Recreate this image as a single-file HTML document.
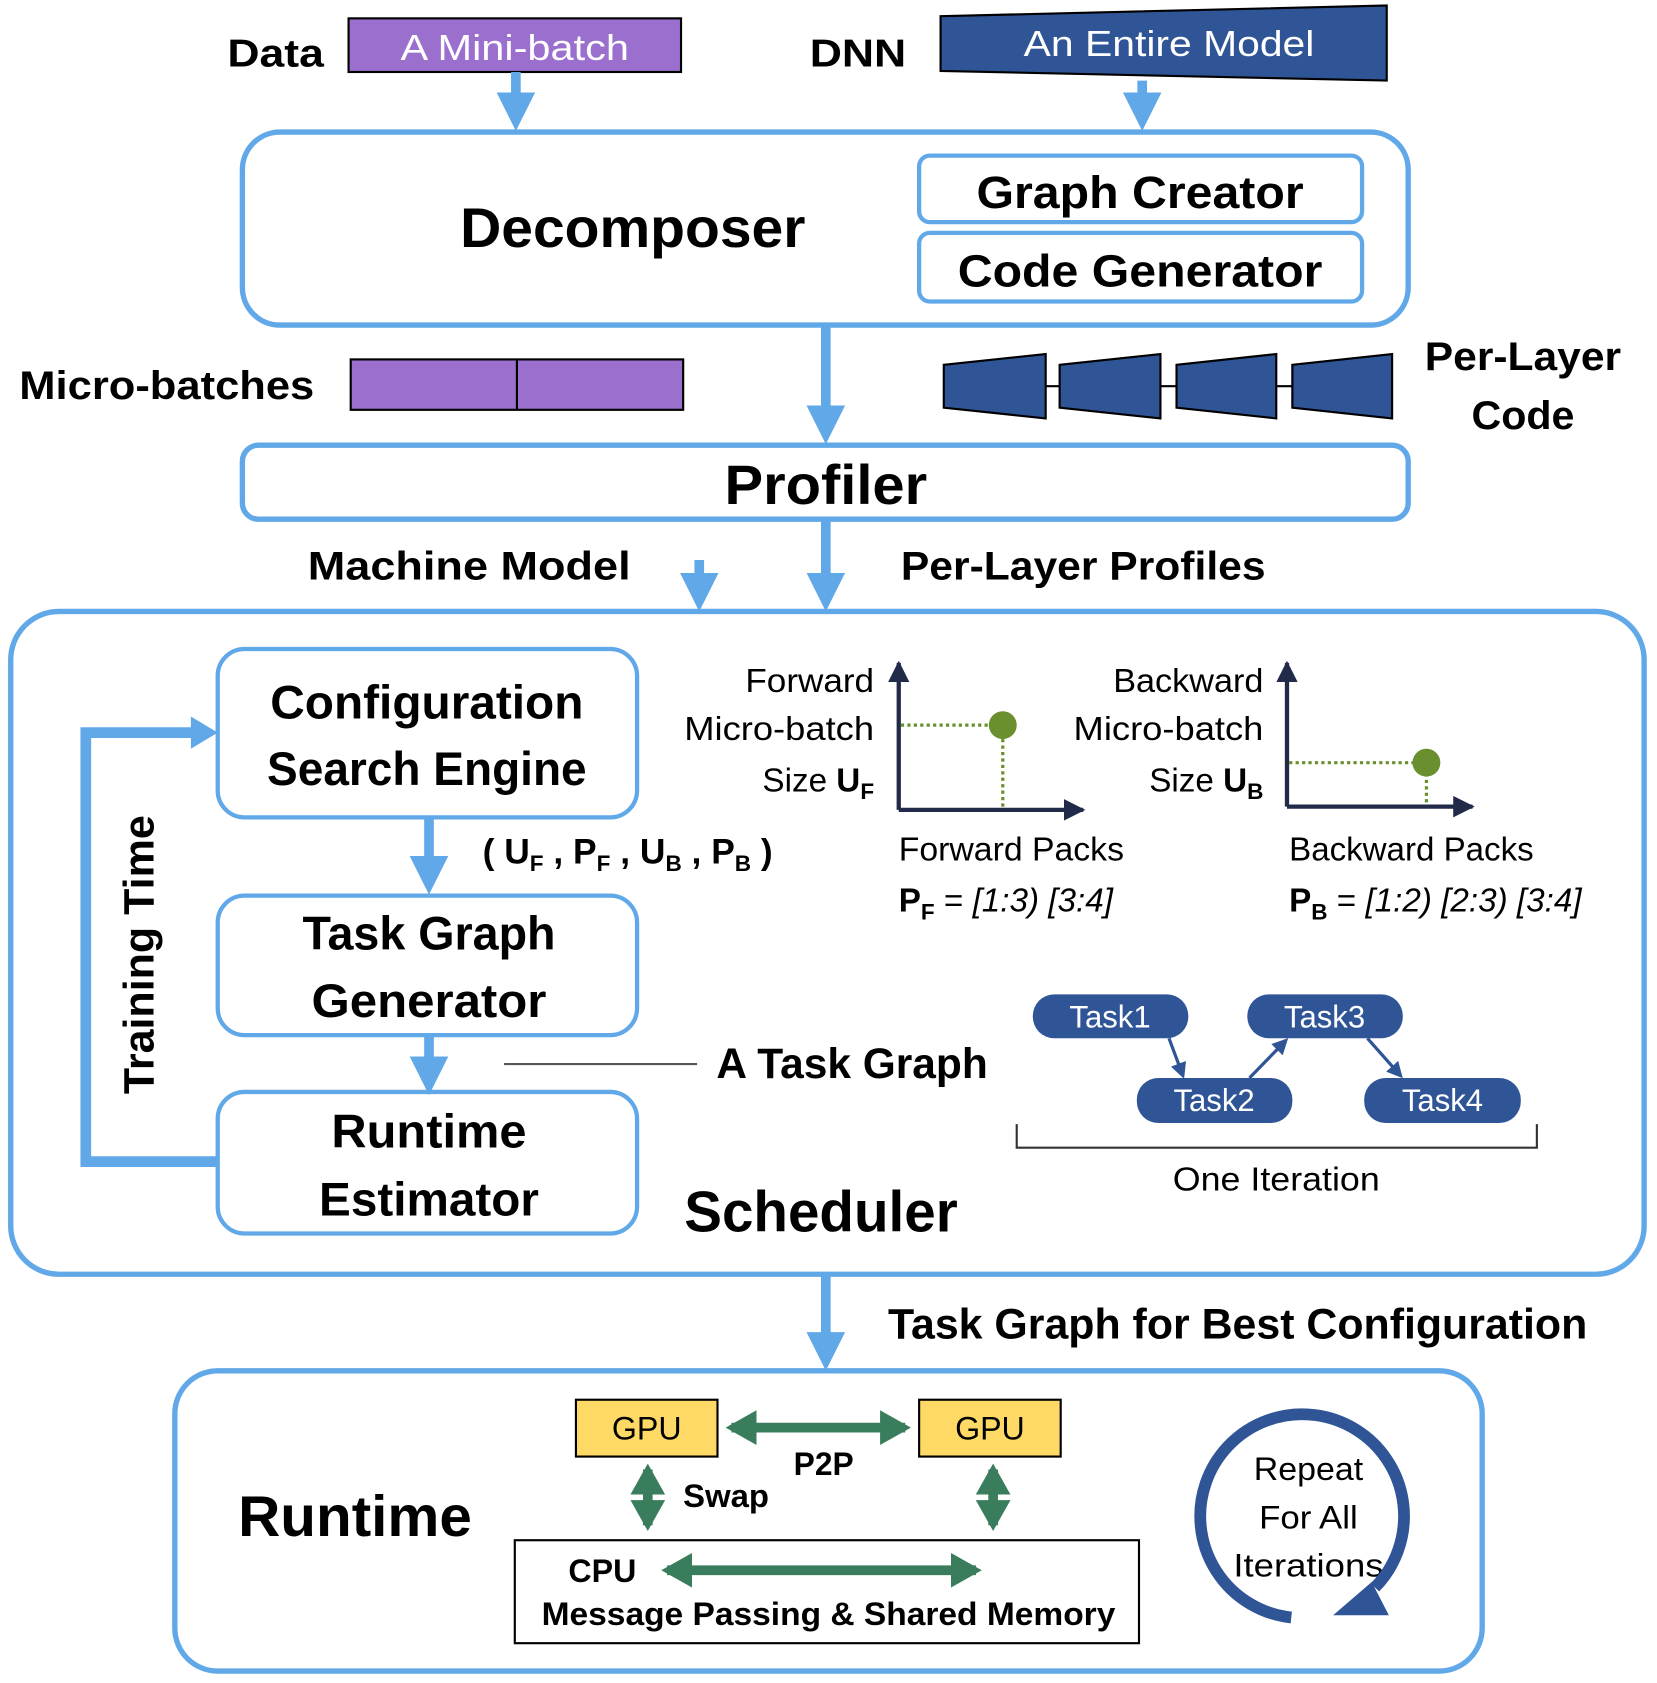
<!DOCTYPE html>
<html><head><meta charset="utf-8"><style>html,body{margin:0;padding:0;background:#fff}svg{display:block}text{font-family:"Liberation Sans",sans-serif}</style></head><body>
<svg width="1657" height="1683" viewBox="0 0 1545 1569" xmlns="http://www.w3.org/2000/svg">
<defs>
<marker id="bh" markerWidth="4" markerHeight="4" refX="2" refY="2" orient="auto" markerUnits="strokeWidth"><path d="M0,0 L4,2 L0,4 z" fill="#61a8e8"/></marker>
<marker id="th" markerWidth="5" markerHeight="5" refX="4" refY="2.5" orient="auto" markerUnits="strokeWidth"><path d="M0,0 L5,2.5 L0,5 z" fill="#2f5597"/></marker>
<marker id="gh" markerWidth="3.2" markerHeight="3.6" refX="2.6" refY="1.8" orient="auto-start-reverse" markerUnits="strokeWidth"><path d="M0,0 L3.2,1.8 L0,3.6 z" fill="#3a7d5c"/></marker>
<marker id="ah" markerWidth="5" markerHeight="5" refX="4.5" refY="2.5" orient="auto" markerUnits="strokeWidth"><path d="M0,0 L5,2.5 L0,5 z" fill="#222a4a"/></marker>
</defs>
<g font-weight="bold" fill="#000" lengthAdjust="spacingAndGlyphs">
<text x="212" y="62" font-size="36" textLength="90" lengthAdjust="spacingAndGlyphs">Data</text>
<text x="755" y="62" font-size="36" textLength="90" lengthAdjust="spacingAndGlyphs">DNN</text>
</g>
<rect x="325" y="17" width="310" height="50" fill="#9b6fce" stroke="#000" stroke-width="2"/>
<text x="480" y="56" font-size="34" fill="#fff" text-anchor="middle" textLength="213" lengthAdjust="spacingAndGlyphs">A Mini-batch</text>
<polygon points="877,15 1293,5 1293,75 877,66" fill="#2f5597" stroke="#000" stroke-width="2"/>
<text x="1090" y="52" font-size="34" fill="#fff" text-anchor="middle" textLength="271" lengthAdjust="spacingAndGlyphs">An Entire Model</text>
<g stroke="#61a8e8" stroke-width="9" fill="none">
<line x1="481" y1="67" x2="481" y2="104" marker-end="url(#bh)"/>
<line x1="1065" y1="75" x2="1065" y2="104" marker-end="url(#bh)"/>
<line x1="770" y1="303" x2="770" y2="396" marker-end="url(#bh)"/>
<line x1="770" y1="484" x2="770" y2="552" marker-end="url(#bh)"/>
<line x1="652" y1="522" x2="652" y2="552" marker-end="url(#bh)"/>
<line x1="400" y1="762" x2="400" y2="816" marker-end="url(#bh)"/>
<line x1="400" y1="965" x2="400" y2="1003" marker-end="url(#bh)"/>
<line x1="770" y1="1188" x2="770" y2="1260" marker-end="url(#bh)"/>
</g>
<g fill="none" stroke="#61a8e8">
<rect x="226" y="123" width="1087" height="180" rx="35" stroke-width="5"/>
<rect x="857" y="145" width="413" height="62" rx="10" stroke-width="4"/>
<rect x="857" y="217" width="413" height="64" rx="10" stroke-width="4"/>
<rect x="226" y="415" width="1087" height="69" rx="15" stroke-width="5"/>
<rect x="10" y="570" width="1523" height="618" rx="45" stroke-width="5"/>
<rect x="203" y="605" width="391" height="157" rx="25" stroke-width="4"/>
<rect x="203" y="835" width="391" height="130" rx="25" stroke-width="4"/>
<rect x="203" y="1018" width="391" height="132" rx="25" stroke-width="4"/>
<rect x="163" y="1278" width="1219" height="280" rx="40" stroke-width="5"/>
<polyline points="203,1083 80,1083 80,683 180,683" stroke-width="10"/>
</g>
<polygon points="178,668 203,683 178,698" fill="#61a8e8"/>
<g font-weight="bold" fill="#000">
<text x="590" y="230" font-size="52" text-anchor="middle" textLength="322" lengthAdjust="spacingAndGlyphs">Decomposer</text>
<text x="1063" y="194" font-size="42" text-anchor="middle" textLength="305" lengthAdjust="spacingAndGlyphs">Graph Creator</text>
<text x="1063" y="267" font-size="42" text-anchor="middle" textLength="340" lengthAdjust="spacingAndGlyphs">Code Generator</text>
<text x="18" y="372" font-size="37" textLength="275" lengthAdjust="spacingAndGlyphs">Micro-batches</text>
<text x="1420" y="345" font-size="37" text-anchor="middle" textLength="183" lengthAdjust="spacingAndGlyphs">Per-Layer</text>
<text x="1420" y="400" font-size="37" text-anchor="middle" textLength="96" lengthAdjust="spacingAndGlyphs">Code</text>
<text x="770" y="470" font-size="52" text-anchor="middle" textLength="189" lengthAdjust="spacingAndGlyphs">Profiler</text>
<text x="287" y="540" font-size="37" textLength="301" lengthAdjust="spacingAndGlyphs">Machine Model</text>
<text x="840" y="540" font-size="37" textLength="340" lengthAdjust="spacingAndGlyphs">Per-Layer Profiles</text>
<text x="398" y="670" font-size="44" text-anchor="middle" textLength="292" lengthAdjust="spacingAndGlyphs">Configuration</text>
<text x="398" y="732" font-size="44" text-anchor="middle" textLength="298" lengthAdjust="spacingAndGlyphs">Search Engine</text>
<text x="400" y="885" font-size="44" text-anchor="middle" textLength="236" lengthAdjust="spacingAndGlyphs">Task Graph</text>
<text x="400" y="948" font-size="44" text-anchor="middle" textLength="219" lengthAdjust="spacingAndGlyphs">Generator</text>
<text x="400" y="1070" font-size="44" text-anchor="middle" textLength="182" lengthAdjust="spacingAndGlyphs">Runtime</text>
<text x="400" y="1133" font-size="44" text-anchor="middle" textLength="205" lengthAdjust="spacingAndGlyphs">Estimator</text>
<text x="450" y="805" font-size="33">( U<tspan font-size="21" dy="7">F</tspan><tspan dy="-7"> , P</tspan><tspan font-size="21" dy="7">F</tspan><tspan dy="-7"> , U</tspan><tspan font-size="21" dy="7">B</tspan><tspan dy="-7"> , P</tspan><tspan font-size="21" dy="7">B</tspan><tspan dy="-7"> )</tspan></text>
<text transform="translate(143,890) rotate(-90)" font-size="40" text-anchor="middle" textLength="260" lengthAdjust="spacingAndGlyphs">Training Time</text>
<text x="668" y="1005" font-size="40" textLength="253" lengthAdjust="spacingAndGlyphs">A Task Graph</text>
<text x="638" y="1148" font-size="54" textLength="255" lengthAdjust="spacingAndGlyphs">Scheduler</text>
<text x="828" y="1248" font-size="40" textLength="652" lengthAdjust="spacingAndGlyphs">Task Graph for Best Configuration</text>
<text x="222" y="1432" font-size="54" textLength="218" lengthAdjust="spacingAndGlyphs">Runtime</text>
</g>
<rect x="327" y="335" width="310" height="47" fill="#9b6fce" stroke="#000" stroke-width="2"/>
<line x1="482" y1="335" x2="482" y2="382" stroke="#000" stroke-width="2"/>
<line x1="975" y1="360" x2="1205" y2="360" stroke="#000" stroke-width="2"/>
<g fill="#2f5597" stroke="#000" stroke-width="2">
<polygon points="880,340 975,330 975,390 880,380"/>
<polygon points="988,340 1082,330 1082,390 988,380"/>
<polygon points="1097,340 1190,330 1190,390 1097,380"/>
<polygon points="1205,340 1298,330 1298,390 1205,380"/>
</g>
<g stroke="#222a4a" stroke-width="4" fill="none">
<line x1="838" y1="755" x2="1010" y2="755" marker-end="url(#ah)"/>
<line x1="838" y1="755" x2="838" y2="618" marker-end="url(#ah)"/>
<line x1="1200" y1="752" x2="1200" y2="618" marker-end="url(#ah)"/>
<line x1="1200" y1="752" x2="1373" y2="752" marker-end="url(#ah)"/>
</g>
<g stroke="#6a8f2e" stroke-width="3" stroke-dasharray="3,3" fill="none">
<polyline points="840,676 935,676 935,753"/>
<polyline points="1202,711 1330,711 1330,750"/>
</g>
<circle cx="935" cy="676" r="13" fill="#6a8f2e"/>
<circle cx="1330" cy="711" r="13" fill="#6a8f2e"/>
<g font-size="31" fill="#000">
<text x="815" y="645" text-anchor="end" textLength="120" lengthAdjust="spacingAndGlyphs">Forward</text>
<text x="815" y="690" text-anchor="end" textLength="177" lengthAdjust="spacingAndGlyphs">Micro-batch</text>
<text x="815" y="738" text-anchor="end">Size <tspan font-weight="bold">U</tspan><tspan font-weight="bold" font-size="21" dy="7">F</tspan></text>
<text x="1178" y="645" text-anchor="end" textLength="140" lengthAdjust="spacingAndGlyphs">Backward</text>
<text x="1178" y="690" text-anchor="end" textLength="177" lengthAdjust="spacingAndGlyphs">Micro-batch</text>
<text x="1178" y="738" text-anchor="end">Size <tspan font-weight="bold">U</tspan><tspan font-weight="bold" font-size="21" dy="7">B</tspan></text>
<text x="838" y="802" textLength="210" lengthAdjust="spacingAndGlyphs">Forward Packs</text>
<text x="838" y="850"><tspan font-weight="bold">P</tspan><tspan font-weight="bold" font-size="21" dy="7">F</tspan><tspan dy="-7"> = </tspan><tspan font-style="italic">[1:3) [3:4]</tspan></text>
<text x="1202" y="802" textLength="228" lengthAdjust="spacingAndGlyphs">Backward Packs</text>
<text x="1202" y="850"><tspan font-weight="bold">P</tspan><tspan font-weight="bold" font-size="21" dy="7">B</tspan><tspan dy="-7"> = </tspan><tspan font-style="italic">[1:2) [2:3) [3:4]</tspan></text>
<text x="1190" y="1110" text-anchor="middle" textLength="193" lengthAdjust="spacingAndGlyphs">One Iteration</text>
</g>
<line x1="470" y1="992" x2="650" y2="992" stroke="#555" stroke-width="2"/>
<g fill="#2f5597">
<rect x="963" y="927" width="145" height="41" rx="20"/>
<rect x="1163" y="927" width="145" height="41" rx="20"/>
<rect x="1060" y="1005" width="145" height="42" rx="20"/>
<rect x="1272" y="1005" width="146" height="42" rx="20"/>
</g>
<g font-size="29" fill="#fff" text-anchor="middle">
<text x="1035" y="958">Task1</text><text x="1235" y="958">Task3</text>
<text x="1132" y="1036">Task2</text><text x="1345" y="1036">Task4</text>
</g>
<g stroke="#2f5597" stroke-width="3">
<line x1="1090" y1="968" x2="1103" y2="1003" marker-end="url(#th)"/>
<line x1="1165" y1="1005" x2="1199" y2="970" marker-end="url(#th)"/>
<line x1="1275" y1="968" x2="1306" y2="1003" marker-end="url(#th)"/>
</g>
<polyline points="948,1048 948,1070 1433,1070 1433,1048" fill="none" stroke="#333" stroke-width="2"/>
<rect x="537" y="1305" width="132" height="53" fill="#ffd966" stroke="#000" stroke-width="2"/>
<rect x="857" y="1305" width="132" height="53" fill="#ffd966" stroke="#000" stroke-width="2"/>
<rect x="480" y="1436" width="582" height="96" fill="#fff" stroke="#000" stroke-width="2"/>
<g stroke="#3a7d5c" stroke-width="9">
<line x1="682" y1="1331" x2="844" y2="1331" marker-start="url(#gh)" marker-end="url(#gh)"/>
<line x1="604" y1="1370" x2="604" y2="1422" marker-start="url(#gh)" marker-end="url(#gh)"/>
<line x1="926" y1="1370" x2="926" y2="1422" marker-start="url(#gh)" marker-end="url(#gh)"/>
<line x1="622" y1="1464" x2="910" y2="1464" marker-start="url(#gh)" marker-end="url(#gh)"/>
</g>
<g font-size="30" fill="#000">
<text x="603" y="1342" text-anchor="middle">GPU</text>
<text x="923" y="1342" text-anchor="middle">GPU</text>
<text x="740" y="1375" font-weight="bold" textLength="56" lengthAdjust="spacingAndGlyphs">P2P</text>
<text x="637" y="1405" font-weight="bold" textLength="80" lengthAdjust="spacingAndGlyphs">Swap</text>
<text x="530" y="1475" font-weight="bold">CPU</text>
<text x="505" y="1515" font-weight="bold" textLength="535" lengthAdjust="spacingAndGlyphs">Message Passing &amp; Shared Memory</text>
<text x="1220" y="1380" text-anchor="middle" textLength="102" lengthAdjust="spacingAndGlyphs">Repeat</text>
<text x="1220" y="1425" text-anchor="middle" textLength="92" lengthAdjust="spacingAndGlyphs">For All</text>
<text x="1220" y="1470" text-anchor="middle" textLength="140" lengthAdjust="spacingAndGlyphs">Iterations</text>
</g>
<path d="M1282,1480 A95,95 0 1 0 1204,1508" fill="none" stroke="#2f5597" stroke-width="11"/>
<polygon points="1243,1506 1295,1506 1279,1475" fill="#2f5597"/>
</svg>
</body></html>
